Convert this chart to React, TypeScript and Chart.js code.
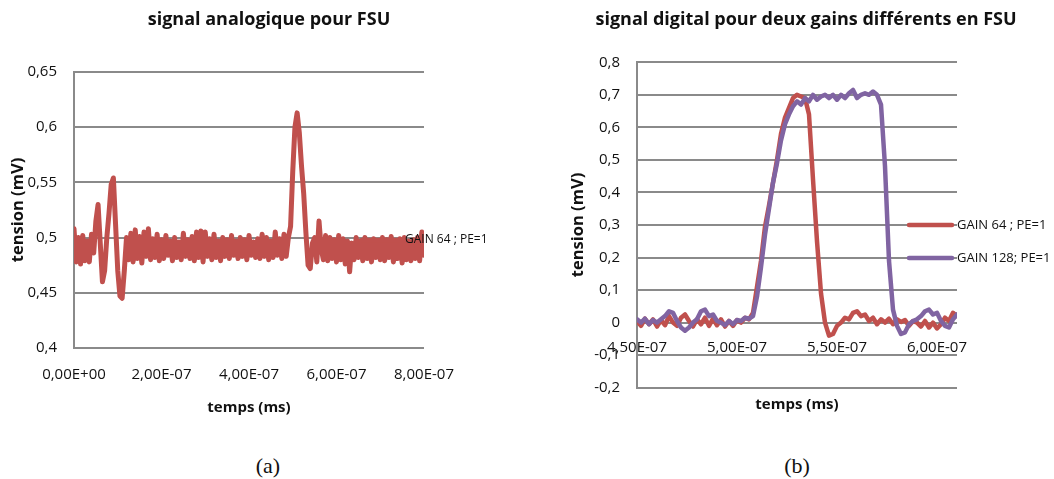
import React, { useEffect, useRef } from "react";
import { Chart, registerables } from "chart.js";

Chart.register(...registerables);

const FONT = "'Open Sans', 'DejaVu Sans', sans-serif";
const RED = "#C0504D";
const PURPLE = "#8064A2";
const GRID = "#8a8a8a";
const TEXT = "#111111";

const X_TITLE = "temps (ms)";
const Y_TITLE = "tension (mV)";

// ---------- chart (a) ----------
const A_TITLE = "signal analogique pour FSU";
const A_LABEL = "GAIN 64 ; PE=1";
const A_T0 = 0;
const A_DT = 5e-9;
const A_VALUES = [
  0.508, 0.478, 0.500, 0.476, 0.502, 0.479, 0.497, 0.478, 0.503, 0.486,
  0.515, 0.530, 0.495, 0.460, 0.470, 0.500, 0.522, 0.548, 0.554, 0.512,
  0.470, 0.447, 0.445, 0.470, 0.500, 0.480, 0.504, 0.478, 0.507, 0.481,
  0.501, 0.477, 0.505, 0.483, 0.508, 0.480, 0.499, 0.482, 0.503, 0.479,
  0.498, 0.481, 0.502, 0.484, 0.497, 0.479, 0.500, 0.482, 0.496, 0.480,
  0.504, 0.483, 0.498, 0.481, 0.501, 0.479, 0.505, 0.482, 0.506, 0.478,
  0.505, 0.483, 0.499, 0.480, 0.503, 0.482, 0.497, 0.479, 0.500, 0.483,
  0.498, 0.481, 0.502, 0.484, 0.497, 0.481, 0.500, 0.483, 0.498, 0.480,
  0.502, 0.484, 0.496, 0.482, 0.499, 0.481, 0.503, 0.483, 0.500, 0.480,
  0.497, 0.482, 0.505, 0.484, 0.499, 0.481, 0.503, 0.483, 0.500, 0.510,
  0.560, 0.600, 0.613, 0.595, 0.565, 0.540, 0.505, 0.475, 0.472, 0.495,
  0.500, 0.478, 0.515, 0.490, 0.480, 0.502, 0.479, 0.500, 0.481, 0.498,
  0.478, 0.502, 0.480, 0.499, 0.476, 0.497, 0.469, 0.495, 0.480, 0.500,
  0.482, 0.497, 0.479, 0.500, 0.481, 0.496, 0.478, 0.499, 0.482, 0.497,
  0.480, 0.500, 0.479, 0.498, 0.482, 0.501, 0.478, 0.497, 0.481, 0.499,
  0.477, 0.500, 0.480, 0.497, 0.479, 0.498, 0.481, 0.500, 0.479, 0.505, 0.484,
];
const A_XTICKS = [0, 2e-7, 4e-7, 6e-7, 8e-7];
const A_YTICKS = [0.4, 0.45, 0.5, 0.55, 0.6, 0.65];

// ---------- chart (b) ----------
const B_TITLE = "signal digital pour deux gains différents en FSU";
const B_LABEL_64 = "GAIN 64 ; PE=1";
const B_LABEL_128 = "GAIN 128; PE=1";
const B_T0 = 4.5e-7;
const B_DT = 2e-9;
const B_GAIN64 = [
  0.005, -0.010, 0.012, -0.005, 0.010, -0.012, 0.008, -0.008, 0.020, 0.000,
  -0.010, 0.015, 0.025, 0.005, -0.012, 0.010, -0.005, 0.015, -0.010, 0.012,
  -0.008, 0.010, -0.012, 0.005, -0.010, 0.008, 0.000, 0.015, 0.010, 0.030,
  0.110, 0.190, 0.295, 0.360, 0.430, 0.500, 0.580, 0.630, 0.660, 0.690,
  0.700, 0.695, 0.690, 0.640, 0.440, 0.250, 0.090, 0.000, -0.040, -0.035,
  -0.010, 0.000, 0.015, 0.010, 0.030, 0.035, 0.020, 0.025, 0.005, 0.015,
  -0.005, 0.010, 0.000, 0.012, -0.005, 0.010, 0.002, 0.008, -0.010, 0.005,
  0.000, -0.012, 0.005, -0.015, 0.000, -0.018, -0.005, 0.015, 0.005, 0.030, 0.020,
];
const B_GAIN128 = [
  0.010, 0.000, 0.012, -0.005, 0.008, 0.000, 0.010, 0.020, 0.035, 0.030,
  0.005, -0.015, -0.025, -0.015, 0.000, 0.010, 0.035, 0.040, 0.020, 0.025,
  0.005, 0.000, -0.008, 0.005, -0.005, 0.008, 0.005, 0.015, 0.012, 0.020,
  0.080, 0.170, 0.270, 0.350, 0.430, 0.490, 0.560, 0.610, 0.640, 0.665,
  0.680, 0.670, 0.690, 0.680, 0.700, 0.685, 0.695, 0.700, 0.690, 0.700,
  0.685, 0.700, 0.690, 0.705, 0.715, 0.690, 0.700, 0.705, 0.700, 0.710,
  0.700, 0.670, 0.480, 0.190, 0.040, -0.010, -0.035, -0.030, -0.005, 0.005,
  0.010, 0.020, 0.035, 0.040, 0.025, 0.030, 0.005, -0.010, -0.015, 0.010, 0.025,
];
const B_XTICKS = [4.5e-7, 5e-7, 5.5e-7, 6e-7];
const B_YTICKS = [-0.2, -0.1, 0, 0.1, 0.2, 0.3, 0.4, 0.5, 0.6, 0.7, 0.8];

// ---------- helpers ----------
const fmtDec = (v: number) => String(Number(v.toFixed(2))).replace(".", ",");
const fmtSci = (v: number) => {
  if (Math.abs(v) < 1e-15) return "0,00E+00";
  const [m, e] = v.toExponential(2).split("e");
  const n = parseInt(e, 10);
  return m.replace(".", ",") + "E" + (n < 0 ? "-" : "+") + String(Math.abs(n)).padStart(2, "0");
};
const toPoints = (vals: number[], t0: number, dt: number) =>
  vals.map((v, i) => ({ x: t0 + i * dt, y: v }));

type LegendItem = { text: string; color: string; x0: number; x1: number; y: number; tx: number };
const fixedLegend = (items: LegendItem[], size: number) => ({
  id: "fixedLegend",
  afterDraw(chart: any) {
    const ctx = chart.ctx as CanvasRenderingContext2D;
    ctx.save();
    for (const it of items) {
      ctx.strokeStyle = it.color;
      ctx.lineWidth = 4.5;
      ctx.lineCap = "round";
      ctx.beginPath();
      ctx.moveTo(it.x0, it.y);
      ctx.lineTo(it.x1, it.y);
      ctx.stroke();
      ctx.fillStyle = TEXT;
      ctx.font = `${size}px ${FONT}`;
      ctx.textBaseline = "middle";
      ctx.textAlign = "left";
      ctx.fillText(it.text, it.tx, it.y);
    }
    ctx.restore();
  },
});

const tickFont = { family: FONT, size: 15 };
const xTitleFont = { family: FONT, size: 15, weight: "bold" as const };
const yTitleFont = { family: FONT, size: 16.5, weight: "bold" as const };
const titleFont = { family: FONT, size: 18, weight: "bold" as const };

const lineDs = (label: string, data: any[], color: string, order: number, width: number) => ({
  label,
  data,
  borderColor: color,
  backgroundColor: color,
  borderWidth: width,
  pointRadius: 0,
  tension: 0,
  fill: false,
  borderJoinStyle: "round" as const,
  borderCapStyle: "round" as const,
  order,
});

function configA(): any {
  return {
    type: "line",
    data: { datasets: [lineDs(A_LABEL, toPoints(A_VALUES, A_T0, A_DT), RED, 0, 5)] },
    options: {
      responsive: false,
      animation: false,
      devicePixelRatio: 1,
      layout: { padding: { left: 0, right: 0, top: 0, bottom: 12 } },
      plugins: {
        legend: { display: false },
        tooltip: { enabled: false },
        title: {
          display: true,
          text: A_TITLE,
          font: titleFont,
          color: TEXT,
          padding: { top: 9, bottom: 41.4 },
        },
      },
      scales: {
        x: {
          type: "linear",
          min: 0,
          max: 8e-7,
          afterBuildTicks: (s: any) => { s.ticks = A_XTICKS.map((v) => ({ value: v })); },
          afterFit: (s: any) => { s.height = 70; },
          ticks: { autoSkip: false, maxRotation: 0, padding: 18, font: tickFont, color: TEXT, callback: (v: any) => fmtSci(Number(v)) },
          grid: { display: false, drawTicks: false },
          border: { display: false },
          title: { display: true, text: X_TITLE, font: xTitleFont, color: TEXT, padding: { top: 0, bottom: 1 } },
        },
        y: {
          type: "linear",
          min: 0.4,
          max: 0.65,
          afterBuildTicks: (s: any) => { s.ticks = A_YTICKS.map((v) => ({ value: v })); },
          afterFit: (s: any) => { s.width = 74; },
          ticks: { padding: 17, font: tickFont, color: TEXT, callback: (v: any) => fmtDec(Number(v)) },
          grid: { color: GRID, lineWidth: 2, drawTicks: false },
          border: { display: true, color: GRID, width: 2 },
          title: { display: true, text: Y_TITLE, font: yTitleFont, color: TEXT, padding: { top: 8, bottom: 0 } },
        },
        yR: {
          type: "linear",
          position: "right",
          display: true,
          afterFit: (s: any) => { s.width = 114; },
          ticks: { display: false },
          grid: { display: false, drawTicks: false },
          border: { display: false },
        },
      },
    },
    plugins: [fixedLegend([{ text: A_LABEL, color: RED, x0: 362, x1: 401, y: 240, tx: 405 }], 12)],
  };
}

function configB(): any {
  return {
    type: "line",
    data: {
      datasets: [
        lineDs(B_LABEL_64, toPoints(B_GAIN64, B_T0, B_DT), RED, 1, 4.5),
        lineDs(B_LABEL_128, toPoints(B_GAIN128, B_T0, B_DT), PURPLE, 0, 4.5),
      ],
    },
    options: {
      responsive: false,
      animation: false,
      devicePixelRatio: 1,
      layout: { padding: { left: 0, right: 0, top: 0, bottom: 42.3 } },
      plugins: {
        legend: { display: false },
        tooltip: { enabled: false },
        title: {
          display: true,
          text: B_TITLE,
          font: titleFont,
          color: TEXT,
          padding: { top: 9, bottom: 31.7 },
        },
      },
      scales: {
        x: {
          type: "linear",
          min: 4.5e-7,
          max: 6.1e-7,
          position: { y: 0 },
          afterBuildTicks: (s: any) => { s.ticks = B_XTICKS.map((v) => ({ value: v })); },
          afterFit: (s: any) => { s.height = 92; },
          ticks: { autoSkip: false, maxRotation: 0, padding: 16.5, font: tickFont, color: TEXT, callback: (v: any) => fmtSci(Number(v)) },
          grid: { display: false, drawTicks: false },
          border: { display: false },
          title: { display: true, text: X_TITLE, font: xTitleFont, color: TEXT, padding: { top: 0, bottom: 1 } },
        },
        y: {
          type: "linear",
          min: -0.2,
          max: 0.8,
          afterBuildTicks: (s: any) => { s.ticks = B_YTICKS.map((v) => ({ value: v })); },
          afterFit: (s: any) => { s.width = 79; },
          ticks: { padding: 17, font: tickFont, color: TEXT, callback: (v: any) => fmtDec(Number(v)) },
          grid: { color: GRID, lineWidth: 2, drawTicks: false },
          border: { display: true, color: GRID, width: 2 },
          title: { display: true, text: Y_TITLE, font: yTitleFont, color: TEXT, padding: { top: 10, bottom: 0 } },
        },
        yR: {
          type: "linear",
          position: "right",
          display: true,
          afterFit: (s: any) => { s.width = 97; },
          ticks: { display: false },
          grid: { display: false, drawTicks: false },
          border: { display: false },
        },
      },
    },
    plugins: [
      fixedLegend(
        [
          { text: B_LABEL_64, color: RED, x0: 351, x1: 394, y: 225, tx: 399 },
          { text: B_LABEL_128, color: PURPLE, x0: 351, x1: 394, y: 258, tx: 399 },
        ],
        13
      ),
    ],
  };
}

const captionStyle = (cx: number): React.CSSProperties => ({
  position: "absolute",
  left: cx - 50,
  width: 100,
  top: 453,
  lineHeight: "26px",
  textAlign: "center",
  fontFamily: "'Liberation Serif', 'DejaVu Serif', serif",
  fontSize: 22,
  color: "#111",
});

export default function App() {
  const refA = useRef<HTMLCanvasElement>(null);
  const refB = useRef<HTMLCanvasElement>(null);

  useEffect(() => {
    const a = new Chart(refA.current as HTMLCanvasElement, configA());
    const b = new Chart(refB.current as HTMLCanvasElement, configB());
    return () => {
      a.destroy();
      b.destroy();
    };
  }, []);

  return (
    <div style={{ position: "absolute", left: 0, top: 0, width: 1054, height: 479, background: "#fff", overflow: "hidden" }}>
      <canvas ref={refA} width={538} height={430} style={{ position: "absolute", left: 0, top: 0 }} />
      <canvas ref={refB} width={496} height={430} style={{ position: "absolute", left: 558, top: 0 }} />
      <div style={captionStyle(268)}>(a)</div>
      <div style={captionStyle(797)}>(b)</div>
    </div>
  );
}
